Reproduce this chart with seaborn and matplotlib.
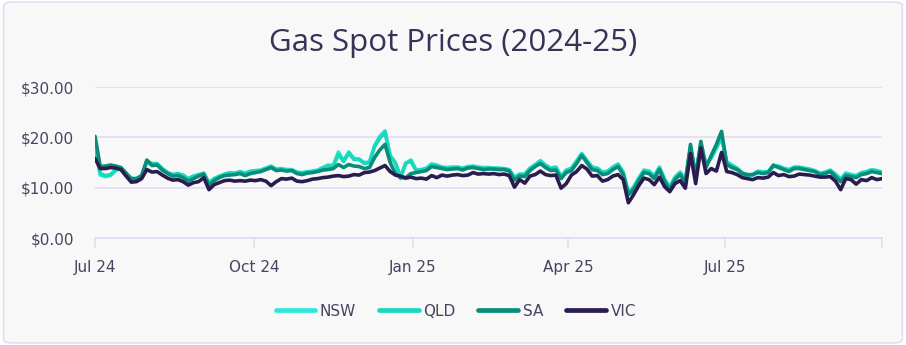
import numpy as np
import pandas as pd
import matplotlib
matplotlib.use("Agg")
import matplotlib.pyplot as plt
from matplotlib.patches import FancyBboxPatch
from matplotlib.lines import Line2D
import seaborn as sns

# Gas spot prices ($/GJ), sampled every third day from 1 Jul 2024 to 30 Sep 2025
start_date = "2024-07-01"
step_days = 3

nsw = [18.0, 12.5, 12.2, 12.4, 13.4, 13.8, 12.6, 11.8, 11.7, 12.2, 15.0, 14.6, 14.6, 13.6, 13.0, 12.6, 12.7, 12.4, 11.7, 12.2, 12.5, 12.9, 10.9, 11.7, 12.2, 12.7, 13.0, 12.9, 13.2, 12.9,
       13.3, 13.4, 13.5, 13.9, 14.3, 13.7, 13.8, 13.6, 13.6, 13.1, 13.0, 13.2, 13.3, 13.5, 14.0, 14.5, 14.4, 17.1, 15.3, 17.1, 15.8, 15.7, 15.0, 15.1, 18.4, 20.2, 21.3, 16.4, 15.0, 11.8, 14.9,
       15.5, 13.5, 13.6, 13.9, 14.7, 14.5, 14.1, 14.0, 14.1, 14.1, 13.9, 14.2, 14.3, 14.1, 14.0, 14.0, 13.9, 13.9, 13.8, 13.6, 12.1, 12.7, 12.7, 13.9, 14.6, 15.4, 14.5, 13.9, 14.1, 12.3, 13.5,
       13.9, 15.3, 16.8, 15.4, 14.1, 13.9, 13.1, 13.3, 14.1, 14.7, 13.1, 9.1, 10.1, 11.9, 13.5, 13.3, 12.3, 14.1, 11.7, 10.1, 12.1, 13.1, 11.5, 17.8, 12.5, 18.6, 14.5, 15.9, 17.8, 20.0, 15.1,
       14.5, 13.9, 13.0, 12.5, 12.6, 13.3, 13.1, 13.2, 14.3, 14.3, 13.9, 13.6, 14.1, 14.1, 13.9, 13.7, 13.4, 12.9, 13.1, 13.5, 12.7, 11.7, 12.9, 12.6, 12.4, 13.0, 13.2, 13.6, 13.4, 13.1]

qld = [18.5, 12.8, 12.4, 12.6, 13.6, 14.0, 12.8, 11.9, 11.8, 12.3, 15.2, 14.8, 14.8, 13.8, 13.0, 12.6, 12.8, 12.5, 11.8, 12.3, 12.6, 12.8, 11.0, 11.8, 12.3, 12.6, 12.9, 12.8, 13.1, 12.8,
       13.2, 13.3, 13.4, 13.8, 14.2, 13.6, 13.7, 13.5, 13.5, 13.0, 12.9, 13.1, 13.2, 13.4, 13.9, 14.3, 14.2, 16.6, 15.2, 16.9, 15.6, 15.6, 14.8, 15.0, 18.2, 19.8, 21.0, 16.2, 14.9, 12.2, 14.8,
       15.3, 13.4, 13.5, 13.8, 14.6, 14.4, 14.0, 13.9, 14.0, 14.0, 13.8, 14.1, 14.2, 14.0, 13.9, 13.9, 13.8, 13.8, 13.7, 13.5, 12.0, 12.6, 12.6, 13.8, 14.5, 15.2, 14.4, 13.8, 14.0, 12.2, 13.4,
       13.8, 15.2, 16.7, 15.3, 14.0, 13.8, 13.0, 13.2, 14.0, 14.6, 13.0, 9.0, 10.0, 11.8, 13.4, 13.2, 12.2, 14.0, 11.6, 10.0, 12.0, 13.0, 11.4, 18.0, 12.4, 18.8, 14.4, 16.0, 18.0, 20.2, 15.0,
       14.4, 13.8, 12.9, 12.4, 12.5, 13.2, 13.0, 13.1, 14.2, 14.2, 13.8, 13.5, 14.0, 14.0, 13.8, 13.6, 13.3, 12.8, 13.0, 13.4, 12.6, 11.6, 12.8, 12.5, 12.3, 12.9, 13.1, 13.5, 13.3, 13.0]

sa = [20.2, 14.2, 14.3, 14.5, 14.3, 14.0, 12.9, 11.7, 11.8, 12.4, 15.5, 14.4, 14.5, 13.5, 12.8, 12.3, 12.4, 12.0, 11.3, 11.8, 12.3, 12.7, 10.5, 11.4, 12.0, 12.4, 12.5, 12.6, 12.8, 12.4,
      12.8, 13.0, 13.2, 13.6, 14.0, 13.4, 13.5, 13.3, 13.4, 12.8, 12.6, 12.9, 13.0, 13.2, 13.5, 13.6, 13.8, 14.6, 14.0, 14.6, 14.3, 14.2, 13.8, 14.0, 16.0, 17.5, 18.6, 15.0, 12.8, 12.0, 12.0,
      12.8, 13.0, 13.2, 13.4, 14.2, 14.0, 13.8, 13.6, 13.7, 13.8, 13.5, 13.9, 14.0, 13.8, 13.6, 13.7, 13.7, 13.6, 13.6, 13.3, 11.5, 12.3, 12.2, 13.4, 14.2, 14.8, 14.0, 13.4, 13.5, 11.8, 13.0,
      13.4, 14.8, 16.4, 15.0, 13.6, 13.4, 12.6, 12.8, 13.6, 14.2, 12.6, 8.6, 9.6, 11.4, 13.0, 12.8, 11.8, 13.6, 11.2, 9.6, 11.6, 12.6, 11.0, 18.6, 12.0, 19.2, 14.0, 16.4, 18.6, 21.2, 14.6,
      14.0, 13.6, 12.8, 12.6, 12.6, 13.0, 12.8, 13.0, 14.5, 14.0, 13.6, 13.2, 13.8, 13.8, 13.6, 13.4, 13.2, 12.6, 12.8, 13.2, 12.2, 11.2, 12.4, 12.2, 12.0, 12.6, 12.8, 13.2, 13.0, 12.8]

vic = [15.8, 13.8, 13.8, 14.0, 13.9, 13.6, 12.3, 11.1, 11.2, 11.8, 13.6, 13.1, 13.2, 12.5, 11.9, 11.5, 11.6, 11.2, 10.5, 11.0, 11.2, 12.0, 9.6, 10.6, 11.0, 11.4, 11.5, 11.3, 11.4, 11.3,
       11.5, 11.4, 11.6, 11.3, 10.4, 11.2, 11.8, 11.7, 11.9, 11.3, 11.2, 11.4, 11.7, 11.8, 12.0, 12.1, 12.3, 12.4, 12.2, 12.3, 12.6, 12.5, 13.0, 13.1, 13.4, 13.9, 14.4, 13.2, 12.5, 12.3, 11.9,
       12.1, 11.8, 11.9, 11.7, 12.4, 12.0, 12.5, 12.3, 12.5, 12.6, 12.4, 12.5, 13.0, 12.7, 12.8, 12.7, 12.8, 12.6, 12.7, 12.4, 10.1, 11.6, 10.9, 12.3, 12.6, 13.3, 12.6, 12.4, 12.5, 9.9, 10.8,
       12.5, 13.2, 14.4, 13.7, 12.3, 12.4, 11.3, 11.6, 12.3, 12.6, 11.6, 7.0, 8.6, 10.4, 11.9, 11.6, 10.6, 12.1, 10.2, 9.2, 10.8, 11.4, 9.9, 16.8, 10.8, 17.9, 12.8, 13.8, 13.3, 17.0, 13.2,
       13.0, 12.6, 12.0, 11.8, 11.6, 12.0, 11.9, 12.1, 13.0, 12.4, 12.6, 12.2, 12.3, 12.7, 12.6, 12.5, 12.3, 12.1, 12.1, 12.2, 11.3, 9.6, 11.8, 11.6, 10.7, 11.6, 11.4, 12.0, 11.6, 11.8]

states = ["NSW", "QLD", "SA", "VIC"]
colors = ["#2ee8d9", "#17d9bd", "#0a8c79", "#2b1c4f"]
tick_dates = ["2024-07-01", "2024-10-01", "2025-01-01", "2025-04-01", "2025-07-01"]
tick_labels = ["Jul 24", "Oct 24", "Jan 25", "Apr 25", "Jul 25"]
end_date = "2025-09-30"
y_ticks = [0, 10, 20, 30]

dates = pd.date_range(start_date, periods=len(vic), freq=f"{step_days}D")
frames = []
for name, vals in zip(states, [nsw, qld, sa, vic]):
    frames.append(pd.DataFrame({"Date": dates, "Price": vals, "State": name}))
df = pd.concat(frames, ignore_index=True)

sns.set_theme(style="white")
plt.rcParams["font.family"] = ["DejaVu Sans"]

text_col = "#4a4360"
grid_col = "#e2dcf2"

fig = plt.figure(figsize=(9.06, 3.45), dpi=100)
fig.patch.set_facecolor("white")
card = FancyBboxPatch((0.004, 0.006), 0.992, 0.988,
                      boxstyle="round,pad=0,rounding_size=0.01",
                      transform=fig.transFigure, facecolor="#f8f8f8",
                      edgecolor="#e3ddf0", linewidth=1.2, zorder=-5)
fig.patches.append(card)

ax = fig.add_axes([0.1049, 0.3101, 0.8687, 0.4377])
ax.set_facecolor("none")
ax.set_zorder(2)

sns.lineplot(data=df, x="Date", y="Price", hue="State", hue_order=states,
             palette=colors, linewidth=2.6, ax=ax, legend=False)

ax.set_xlim(pd.Timestamp(start_date), pd.Timestamp(end_date))
ax.set_ylim(0, 30)
ax.set_yticks(y_ticks)
ax.set_yticklabels([f"${v:.2f}" for v in y_ticks])
ax.yaxis.grid(True, color=grid_col, linewidth=1.2)
ax.set_axisbelow(True)

ax.set_xticks([pd.Timestamp(d) for d in tick_dates])
ax.set_xticklabels(tick_labels)
ax.set_xticks([pd.Timestamp(end_date)], minor=True)

for side in ["top", "right", "left"]:
    ax.spines[side].set_visible(False)
ax.spines["bottom"].set_color(grid_col)
ax.spines["bottom"].set_linewidth(1.2)

ax.tick_params(axis="x", which="both", bottom=True, length=7, width=1.2,
               color=grid_col, labelsize=11, labelcolor=text_col, pad=9)
ax.tick_params(axis="y", left=False, length=0, labelsize=11, labelcolor=text_col, pad=15)
ax.set_xlabel("")
ax.set_ylabel("")

fig.text(0.5, 0.875, "Gas Spot Prices (2024-25)", ha="center", va="center",
         fontsize=22.5, color="#3b3158", zorder=3, family=["Open Sans", "DejaVu Sans"])

handles = [Line2D([0], [0], color=c, linewidth=3.4, solid_capstyle="round") for c in colors]
fig.legend(handles, states, loc="center", bbox_to_anchor=(0.503, 0.098), ncol=4,
           frameon=False, fontsize=11, labelcolor=text_col, handlelength=2.6,
           handletextpad=0.3, columnspacing=1.5)

fig.savefig("out.png", dpi=100, facecolor=fig.get_facecolor())
